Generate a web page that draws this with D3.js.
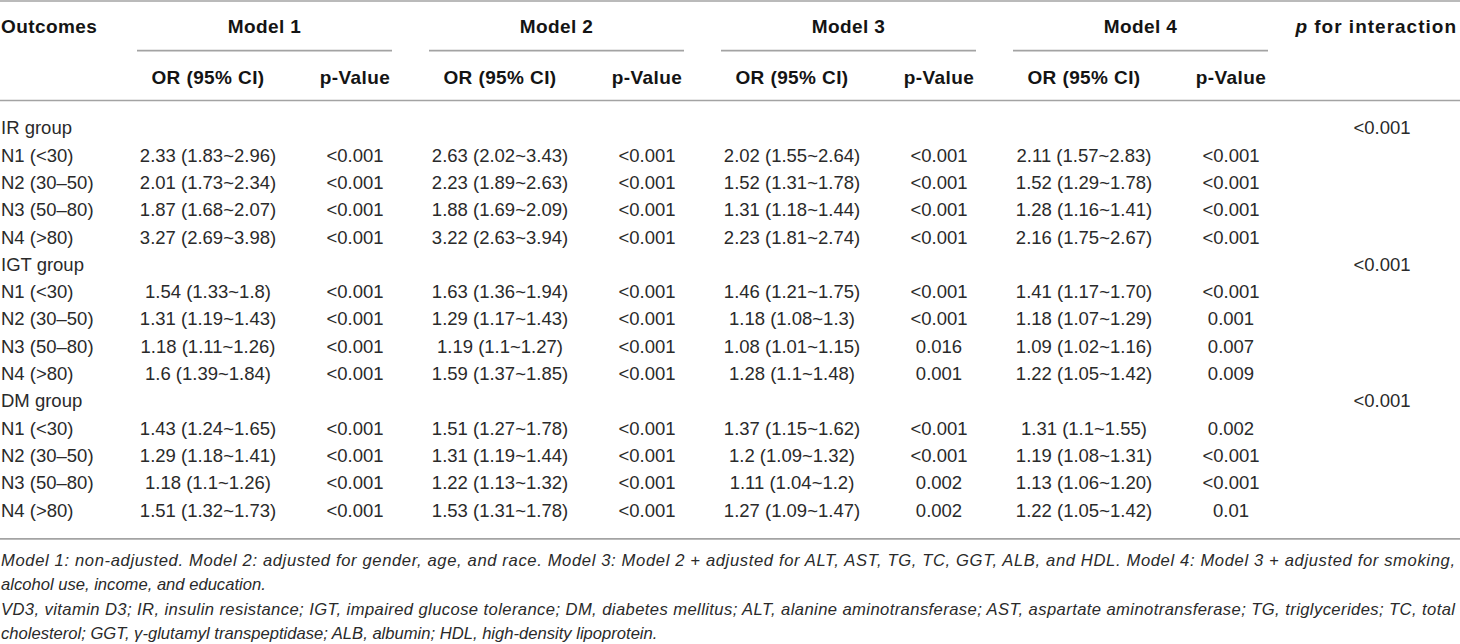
<!DOCTYPE html>
<html>
<head>
<meta charset="utf-8">
<script src="https://cdn.jsdelivr.net/npm/d3@7"></script>
<style>
  html, body { margin: 0; padding: 0; background: #fff; }
  svg { display: block; }
</style>
</head>
<body>
<svg id="chart" width="1460" height="644"></svg>
<script>
// ---------------- data ----------------
const models = ["Model 1", "Model 2", "Model 3", "Model 4"];
const subHeaders = ["OR (95% CI)", "p-Value"];
const groups = ["IR group", "IGT group", "DM group"];
const strata = ["N1 (<30)", "N2 (30–50)", "N3 (50–80)", "N4 (>80)"];
const pInteraction = ["<0.001", "<0.001", "<0.001"];

// OR (95% CI) per model (rows) per stratum (columns)
const orIR = [
  ["2.33 (1.83~2.96)", "2.01 (1.73~2.34)", "1.87 (1.68~2.07)", "3.27 (2.69~3.98)"],
  ["2.63 (2.02~3.43)", "2.23 (1.89~2.63)", "1.88 (1.69~2.09)", "3.22 (2.63~3.94)"],
  ["2.02 (1.55~2.64)", "1.52 (1.31~1.78)", "1.31 (1.18~1.44)", "2.23 (1.81~2.74)"],
  ["2.11 (1.57~2.83)", "1.52 (1.29~1.78)", "1.28 (1.16~1.41)", "2.16 (1.75~2.67)"]
];
const pIR = [
  ["<0.001", "<0.001", "<0.001", "<0.001"],
  ["<0.001", "<0.001", "<0.001", "<0.001"],
  ["<0.001", "<0.001", "<0.001", "<0.001"],
  ["<0.001", "<0.001", "<0.001", "<0.001"]
];
const orIGT = [
  ["1.54 (1.33~1.8)", "1.31 (1.19~1.43)", "1.18 (1.11~1.26)", "1.6 (1.39~1.84)"],
  ["1.63 (1.36~1.94)", "1.29 (1.17~1.43)", "1.19 (1.1~1.27)", "1.59 (1.37~1.85)"],
  ["1.46 (1.21~1.75)", "1.18 (1.08~1.3)", "1.08 (1.01~1.15)", "1.28 (1.1~1.48)"],
  ["1.41 (1.17~1.70)", "1.18 (1.07~1.29)", "1.09 (1.02~1.16)", "1.22 (1.05~1.42)"]
];
const pIGT = [
  ["<0.001", "<0.001", "<0.001", "<0.001"],
  ["<0.001", "<0.001", "<0.001", "<0.001"],
  ["<0.001", "<0.001", "0.016", "0.001"],
  ["<0.001", "0.001", "0.007", "0.009"]
];
const orDM = [
  ["1.43 (1.24~1.65)", "1.29 (1.18~1.41)", "1.18 (1.1~1.26)", "1.51 (1.32~1.73)"],
  ["1.51 (1.27~1.78)", "1.31 (1.19~1.44)", "1.22 (1.13~1.32)", "1.53 (1.31~1.78)"],
  ["1.37 (1.15~1.62)", "1.2 (1.09~1.32)", "1.11 (1.04~1.2)", "1.27 (1.09~1.47)"],
  ["1.31 (1.1~1.55)", "1.19 (1.08~1.31)", "1.13 (1.06~1.20)", "1.22 (1.05~1.42)"]
];
const pDM = [
  ["<0.001", "<0.001", "<0.001", "<0.001"],
  ["<0.001", "<0.001", "<0.001", "<0.001"],
  ["<0.001", "<0.001", "0.002", "0.002"],
  ["0.002", "<0.001", "<0.001", "0.01"]
];
const footnotes = [
  "Model 1: non-adjusted. Model 2: adjusted for gender, age, and race. Model 3: Model 2 + adjusted for ALT, AST, TG, TC, GGT, ALB, and HDL. Model 4: Model 3 + adjusted for smoking,",
  "alcohol use, income, and education.",
  "VD3, vitamin D3; IR, insulin resistance; IGT, impaired glucose tolerance; DM, diabetes mellitus; ALT, alanine aminotransferase; AST, aspartate aminotransferase; TG, triglycerides; TC, total",
  "cholesterol; GGT, γ-glutamyl transpeptidase; ALB, albumin; HDL, high-density lipoprotein."
];
const justifiedLines = [true, false, true, false];

// ---------------- build table rows ----------------
const orByGroup = [orIR, orIGT, orDM];
const pByGroup = [pIR, pIGT, pDM];
const rows = [];
groups.forEach((g, gi) => {
  rows.push({ label: g, pint: pInteraction[gi], cells: null });
  strata.forEach((s, si) => {
    rows.push({
      label: s,
      pint: null,
      cells: models.map((m, mi) => ({ or: orByGroup[gi][mi][si], p: pByGroup[gi][mi][si] }))
    });
  });
});

// ---------------- layout ----------------
const W = 1460, H = 644;
const svg = d3.select("#chart");
svg.append("rect").attr("width", W).attr("height", H).attr("fill", "#fff");

const bodyFont = "'Liberation Sans', Arial, Helvetica, sans-serif";
const lineColor = "#a3a3a3";
const textColor = "#2a2a2a";

// model block start x
const xModel = d3.scaleLinear().domain([0, models.length - 1]).range([137, 1013]);
const blockW = 255;
const orOffset = 71, pOffset = 218;
const xInteraction = 1382;

// row baselines
const yRow = d3.scaleLinear().domain([0, rows.length - 1]).range([134.3, 516.5]);

// rules
const rule = (y, x1, x2) => svg.append("line")
  .attr("x1", x1).attr("x2", x2).attr("y1", y).attr("y2", y)
  .attr("stroke", lineColor).attr("stroke-width", 1.7);
rule(1, 0, W);
rule(100.5, 0, W);
rule(538.8, 0, W);
models.forEach((m, i) => rule(50.7, xModel(i), xModel(i) + blockW));

// header
const hdr = svg.append("g")
  .attr("font-family", bodyFont).attr("font-weight", "bold")
  .attr("font-size", 19).attr("letter-spacing", 0.4).attr("fill", "#141414");
hdr.append("text").attr("x", 1).attr("y", 33.3).text("Outcomes");
hdr.selectAll("text.model").data(models).join("text").attr("class", "model")
  .attr("x", (d, i) => xModel(i) + blockW / 2).attr("y", 33.3)
  .attr("text-anchor", "middle").text(d => d);
models.forEach((m, i) => {
  hdr.append("text").attr("x", xModel(i) + orOffset).attr("y", 84)
    .attr("text-anchor", "middle").text(subHeaders[0]);
  hdr.append("text").attr("x", xModel(i) + pOffset).attr("y", 84)
    .attr("text-anchor", "middle").text(subHeaders[1]);
});
const pint = hdr.append("text").attr("x", 1457).attr("y", 33.3)
  .attr("text-anchor", "end").attr("letter-spacing", 1.0);
pint.append("tspan").attr("font-style", "italic").text("p");
pint.append("tspan").text(" for interaction");

// body
const body = svg.append("g")
  .attr("font-family", bodyFont).attr("font-size", 18.5).attr("fill", textColor);
const rowG = body.selectAll("g.row").data(rows).join("g").attr("class", "row")
  .attr("transform", (d, i) => `translate(0,${yRow(i)})`);
rowG.append("text").attr("x", 1).attr("y", 0).text(d => d.label);
rowG.filter(d => d.pint).append("text")
  .attr("x", xInteraction).attr("text-anchor", "middle").text(d => d.pint);
rowG.filter(d => d.cells).each(function (d) {
  const g = d3.select(this);
  g.selectAll("text.or").data(d.cells).join("text").attr("class", "or")
    .attr("x", (c, i) => xModel(i) + orOffset).attr("text-anchor", "middle").text(c => c.or);
  g.selectAll("text.p").data(d.cells).join("text").attr("class", "p")
    .attr("x", (c, i) => xModel(i) + pOffset).attr("text-anchor", "middle").text(c => c.p);
});

// footnotes
const yFoot = d3.scaleLinear().domain([0, footnotes.length - 1]).range([565.5, 639]);
const foot = svg.append("g")
  .attr("font-family", bodyFont).attr("font-style", "italic")
  .attr("font-size", 16.6).attr("fill", textColor);
foot.selectAll("text").data(footnotes).join("text")
  .attr("x", 1).attr("y", (d, i) => yFoot(i)).text(d => d)
  .each(function (d, i) {
    if (justifiedLines[i]) {
      d3.select(this).attr("textLength", 1454).attr("lengthAdjust", "spacing");
    }
  });
</script>
</body>
</html>
